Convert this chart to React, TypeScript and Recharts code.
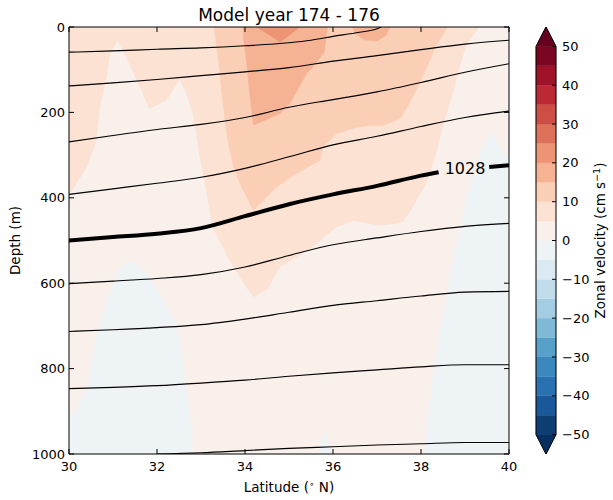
import React from 'react';
import { ComposedChart, Scatter, XAxis, YAxis, ReferenceDot, Curve } from 'recharts';

const FONT = '"DejaVu Sans", sans-serif';

// ---------- axes / colour scale ----------
const LAT_TICKS = [30, 32, 34, 36, 38, 40];
const DEPTH_TICKS = [0, 200, 400, 600, 800, 1000];
const LEVELS = [-50, -45, -40, -35, -30, -25, -20, -15, -10, -5, 0, 5, 10, 15, 20, 25, 30, 35, 40, 45, 50];
const CB_TICKS = [-50, -40, -30, -20, -10, 0, 10, 20, 30, 40, 50];
const BAND_COLORS = [
  '#0c3e74', '#1a5999', '#2a71b2', '#3b88bd', '#57a0ca', '#7eb9d7', '#a2cde3', '#c1ddec', '#dbeaf2', '#eef3f5',
  '#f9f0eb', '#fce2d3', '#fbceb6', '#f6b393', '#ed9475', '#dd715a', '#cd4e44', '#bb2a34', '#9f1228', '#7a0622',
];
const UNDER_COLOR = '#053061';
const OVER_COLOR = '#67001f';

// ---------- filled velocity regions: [latitude, depth] ----------
const REGION_0_5: [number, number][] = [[30, 0], [40, 0], [40, 1000], [30, 1000]];
const REGION_5_10: [number, number][] = [
  [30, 0], [39.3, 0], [39.26, 8], [39.03, 43], [38.88, 90], [38.73, 152], [38.5, 230], [38.35, 293],
  [38.12, 365], [37.85, 415], [37.6, 455], [37.44, 460], [37.06, 464], [36.46, 453], [36.08, 468],
  [35.54, 515], [34.79, 562], [34.52, 613], [34.19, 632], [34.04, 610], [33.65, 546], [33.27, 469],
  [32.97, 300], [32.9, 250], [32.82, 203], [32.67, 156], [32.52, 121], [32.21, 172], [31.83, 191],
  [31.61, 140], [31.3, 70], [31.11, 31], [30.93, 62], [30.85, 117], [30.7, 187], [30.62, 266],
  [30.4, 328], [30.05, 386], [30, 392],
];
const REGION_10_15: [number, number][] = [
  [33.3, 0], [38.6, 0], [38.35, 43], [38.05, 113], [37.75, 176], [37.52, 215], [37.14, 230], [36.83, 230],
  [36.5, 236], [36.08, 250], [35.77, 281], [35.7, 312], [35.17, 343], [34.71, 375], [34.19, 429],
  [33.9, 370], [33.72, 320], [33.6, 260], [33.48, 160], [33.4, 80],
];
const REGION_15_20_A: [number, number][] = [
  [33.95, 0], [35.88, 0], [35.85, 20], [35.8, 60], [35.54, 94], [35.4, 109], [35.02, 179], [34.79, 203],
  [34.19, 230], [34.1, 150], [34.05, 94], [33.97, 30],
];
const REGION_15_20_B: [number, number][] = [[36.45, 0], [37.3, 0], [37.2, 20], [37.0, 33], [36.7, 30], [36.5, 14]];
const REGION_20_25: [number, number][] = [[34.26, 0], [35.24, 0], [35.0, 20], [34.79, 35], [34.55, 18]];
const REGION_NEG_LEFT: [number, number][] = [
  [30, 905], [30.13, 909], [30.43, 843], [30.62, 726], [30.85, 648], [31.15, 562], [31.49, 549],
  [31.76, 578], [32.14, 640], [32.44, 695], [32.55, 757], [32.63, 835], [32.74, 913], [32.82, 1000], [30, 1000],
];
const REGION_NEG_RIGHT: [number, number][] = [
  [39.6, 246], [39.79, 281], [40, 312], [40, 1000], [38.06, 1000], [38.08, 992], [38.16, 913], [38.27, 835],
  [38.42, 718], [38.58, 640], [38.77, 523], [38.88, 484], [39.03, 406], [39.18, 343], [39.37, 289],
];
const REGION_NEG_SMALL: [number, number][] = [[35.66, 1000], [35.81, 948], [35.97, 1000]];

const REGIONS = [
  { level: 0, pts: REGION_0_5 },
  { level: 5, pts: REGION_5_10 },
  { level: 10, pts: REGION_10_15 },
  { level: 15, pts: REGION_15_20_A },
  { level: 15, pts: REGION_15_20_B },
  { level: 20, pts: REGION_20_25 },
  { level: -5, pts: REGION_NEG_LEFT },
  { level: -5, pts: REGION_NEG_RIGHT },
  { level: -5, pts: REGION_NEG_SMALL },
];

// ---------- density contours: [latitude, depth] ----------
const LINE_1: [number, number][] = [[30, 59], [31, 56], [32, 52], [33, 49], [34, 44], [35, 37], [35.5, 31], [36, 22], [36.5, 14], [37, 4], [37.1, 0]];
const LINE_2: [number, number][] = [[30, 138], [31, 131], [32, 123], [33, 114], [34, 105], [35, 95], [36, 80], [37, 67], [38, 53], [39, 40], [40, 31]];
const LINE_3: [number, number][] = [[30, 269], [31, 254], [32, 240], [33, 228], [34, 212], [35, 188], [36, 170], [37, 152], [38, 130], [39, 106], [40, 86]];
const LINE_4: [number, number][] = [[30, 392], [31, 379], [32, 366], [33, 352], [34, 331], [35, 304], [36, 276], [37, 256], [38, 233], [39, 212], [40, 197]];
const LINE_1028_A: [number, number][] = [[30, 500], [31, 492], [32, 484], [33, 471], [34, 443], [35, 415], [36, 392], [37, 372], [38, 348], [38.4, 340]];
const LINE_1028_B: [number, number][] = [[39.55, 328], [40, 324]];
const LINE_6: [number, number][] = [[30, 601], [31, 595], [32, 589], [33, 580], [34, 562], [35, 535], [36, 510], [37, 494], [38, 479], [39, 467], [40, 460]];
const LINE_7: [number, number][] = [[30, 713], [31, 709], [32, 704], [33, 697], [34, 684], [35, 668], [36, 652], [37, 641], [38, 630], [39, 621], [40, 619]];
const LINE_8: [number, number][] = [[30, 847], [31, 844], [32, 840], [33, 834], [34, 827], [35, 818], [36, 810], [37, 803], [38, 796], [39, 791], [40, 791]];
const LINE_9: [number, number][] = [[32, 1000], [33, 997], [34, 992], [35, 987], [36, 983], [37, 979], [38, 976], [39, 973], [40, 973]];

const THIN_LINES = [LINE_1, LINE_2, LINE_3, LINE_4, LINE_6, LINE_7, LINE_8, LINE_9];
const THICK_LINES = [LINE_1028_A, LINE_1028_B];
const LABEL_1028 = { lat: 39.0, depth: 330, text: '1028' };

// ---------- helpers ----------
const toPts = (arr: [number, number][]) => arr.map(([lat, depth]) => ({ lat, depth }));
const colorFor = (level: number) => BAND_COLORS[LEVELS.indexOf(level)];
const noShape = () => <g />;

const polyRenderer = (fill: string, stroke?: string, sw?: number) => (props: any) => {
  const pts = (props.points || []) as { x: number; y: number }[];
  const d = pts.map((p, i) => `${i ? 'L' : 'M'}${p.x},${p.y}`).join('') + 'Z';
  return <path d={d} fill={fill} stroke={stroke || fill} strokeWidth={sw ?? 0.6} strokeLinejoin="miter" />;
};
const curveRenderer = (w: number) => (props: any) => (
  <Curve points={props.points} type="monotoneX" stroke="#000" strokeWidth={w} fill="none" />
);

// colorbar table built from levels
const CB_BANDS = BAND_COLORS.map((c, i) => ({
  color: c,
  pts: [
    { x: 0, v: LEVELS[i] }, { x: 1, v: LEVELS[i] }, { x: 1, v: LEVELS[i + 1] }, { x: 0, v: LEVELS[i + 1] },
  ],
}));
const CB_OVER = [{ x: 0, v: 50 }, { x: 1, v: 50 }, { x: 0.5, v: 55 }];
const CB_UNDER = [{ x: 0, v: -50 }, { x: 1, v: -50 }, { x: 0.5, v: -55 }];
const CB_OUTLINE = [{ x: 0, v: -50 }, { x: 0, v: 50 }, { x: 0.5, v: 55 }, { x: 1, v: 50 }, { x: 1, v: -50 }, { x: 0.5, v: -55 }];
const ANCHOR = [{ lat: 30, depth: 0 }, { lat: 40, depth: 1000 }];

const TICK_LEN = 5;
const CB_TICK_LEN = 4;
const X_MARGIN = 7.5;
const Y_MARGIN = 4;
const CB_MARGIN_PX = 6;
const cbTickFmt = (v: number) => (v < 0 ? `\u2212${Math.abs(v)}` : `${v}`);

// custom ticks: inward tick mark + label, positioned from the axis' own tick coordinates
const BottomTick = (p: any) => (
  <g>
    <line x1={p.x} x2={p.x} y1={p.y - X_MARGIN} y2={p.y - X_MARGIN - TICK_LEN} stroke="#000" strokeWidth={1} />
    <text x={p.x} y={p.y} dy="0.71em" textAnchor="middle" fontSize={13} fontFamily={FONT} fill="#000">
      {p.payload.value}
    </text>
  </g>
);
const TopTick = (p: any) => (
  <line x1={p.x} x2={p.x} y1={p.y} y2={p.y + TICK_LEN} stroke="#000" strokeWidth={1} />
);
const LeftTick = (p: any) => (
  <g>
    <line x1={p.x + Y_MARGIN} x2={p.x + Y_MARGIN + TICK_LEN} y1={p.y} y2={p.y} stroke="#000" strokeWidth={1} />
    <text x={p.x} y={p.y} dy="0.355em" textAnchor="end" fontSize={13} fontFamily={FONT} fill="#000">
      {p.payload.value}
    </text>
  </g>
);
const RightTick = (p: any) => (
  <line x1={p.x} x2={p.x - TICK_LEN} y1={p.y} y2={p.y} stroke="#000" strokeWidth={1} />
);
const CbTick = (p: any) => (
  <g>
    <line x1={p.x - CB_MARGIN_PX} x2={p.x - CB_MARGIN_PX - CB_TICK_LEN} y1={p.y} y2={p.y} stroke="#000" strokeWidth={1} />
    <text x={p.x} y={p.y} dy="0.355em" textAnchor="start" fontSize={13} fontFamily={FONT} fill="#000">
      {cbTickFmt(p.payload.value)}
    </text>
  </g>
);

const TitleLabel = (p: any) => {
  const vb = p.viewBox;
  return (
    <text x={vb.x + vb.width / 2} y={vb.y + vb.height - 6} textAnchor="middle" fontSize={17} fontFamily={FONT} fill="#000">
      Model year 174 - 176
    </text>
  );
};
const XLabel = (p: any) => {
  const vb = p.viewBox;
  return (
    <text x={vb.x + vb.width / 2} y={vb.y + 37.5} textAnchor="middle" fontSize={13.5} fontFamily={FONT} fill="#000">
      Latitude (<tspan dy={-5} fontSize={9}>{'\u2218'}</tspan>
      <tspan dy={5}> N)</tspan>
    </text>
  );
};
const YLabel = (p: any) => {
  const vb = p.viewBox;
  const x = vb.x + 1;
  const y = vb.y + vb.height / 2;
  return (
    <text x={x} y={y} transform={`rotate(-90, ${x}, ${y})`} textAnchor="middle" fontSize={13.5} fontFamily={FONT} fill="#000">
      Depth (m)
    </text>
  );
};
const CbLabel = (p: any) => {
  const vb = p.viewBox;
  const x = vb.x + 49;
  const y = vb.y + vb.height / 2;
  return (
    <text x={x} y={y} transform={`rotate(-90, ${x}, ${y})`} textAnchor="middle" fontSize={13.5} fontFamily={FONT} fill="#000">
      Zonal velocity (cm s<tspan dy={-5} fontSize={9.5}>{'\u22121'}</tspan>
      <tspan dy={5}>)</tspan>
    </text>
  );
};

const MAIN_MARGIN = { top: 27, right: 104, bottom: 16, left: 19 };
const FRAME_MARGIN = { top: 26, right: 103, bottom: 16, left: 19 };
const CB_MARGIN = { top: 27, right: 12, bottom: 46, left: 536 };
const layer: React.CSSProperties = { position: 'absolute', left: 0, top: 0 };

export default function App() {
  return (
    <div style={{ position: 'absolute', left: 0, top: 0, width: 613, height: 500, background: '#fff' }}>
      {/* main plot: fills and contours */}
      <div style={layer}>
        <ComposedChart width={613} height={500} margin={MAIN_MARGIN}>
          {REGIONS.map((r, i) => (
            <Scatter
              key={`r${i}`}
              data={toPts(r.pts)}
              fill={colorFor(r.level)}
              line={polyRenderer(colorFor(r.level))}
              lineType="joint"
              shape={noShape}
              isAnimationActive={false}
            />
          ))}
          {THIN_LINES.map((l, i) => (
            <Scatter key={`l${i}`} data={toPts(l)} fill="#000" line={curveRenderer(1.15)} lineType="joint" shape={noShape} isAnimationActive={false} />
          ))}
          {THICK_LINES.map((l, i) => (
            <Scatter key={`t${i}`} data={toPts(l)} fill="#000" line={curveRenderer(4)} lineType="joint" shape={noShape} isAnimationActive={false} />
          ))}
          <ReferenceDot
            x={LABEL_1028.lat}
            y={LABEL_1028.depth}
            r={1}
            fill="none"
            stroke="none"
            label={{ value: LABEL_1028.text, position: 'center', fontSize: 16, fill: '#000', fontFamily: FONT }}
          />
          <XAxis dataKey="lat" type="number" domain={[30, 40]} ticks={LAT_TICKS} allowDataOverflow height={30} tick={false} tickLine={false} axisLine={false} />
          <YAxis dataKey="depth" type="number" domain={[0, 1000]} reversed ticks={DEPTH_TICKS} allowDataOverflow width={50} tick={false} tickLine={false} axisLine={false} />
        </ComposedChart>
      </div>
      {/* main plot: frame, ticks and labels on top */}
      <div style={layer}>
        <ComposedChart width={613} height={500} margin={FRAME_MARGIN}>
          <Scatter data={ANCHOR} fill="none" shape={noShape} isAnimationActive={false} />
          <Scatter data={ANCHOR} xAxisId="top" yAxisId="right" fill="none" shape={noShape} isAnimationActive={false} />
          <XAxis
            dataKey="lat"
            type="number"
            domain={[30, 40]}
            ticks={LAT_TICKS}
            allowDataOverflow
            stroke="#000"
            tickLine={false}
            tickSize={0}
            tickMargin={X_MARGIN}
            tick={BottomTick}
            height={30}
            label={XLabel}
          />
          <XAxis
            xAxisId="top"
            dataKey="lat"
            orientation="top"
            type="number"
            domain={[30, 40]}
            ticks={LAT_TICKS}
            allowDataOverflow
            stroke="#000"
            tickLine={false}
            tickSize={0}
            tickMargin={0}
            tick={TopTick}
            height={1}
            label={TitleLabel}
          />
          <YAxis
            dataKey="depth"
            type="number"
            domain={[0, 1000]}
            reversed
            ticks={DEPTH_TICKS}
            allowDataOverflow
            stroke="#000"
            tickLine={false}
            tickSize={0}
            tickMargin={Y_MARGIN}
            tick={LeftTick}
            width={50}
            label={YLabel}
          />
          <YAxis
            yAxisId="right"
            dataKey="depth"
            orientation="right"
            type="number"
            domain={[0, 1000]}
            reversed
            ticks={DEPTH_TICKS}
            allowDataOverflow
            stroke="#000"
            tickLine={false}
            tickSize={0}
            tickMargin={0}
            tick={RightTick}
            width={1}
          />
        </ComposedChart>
      </div>
      {/* colorbar fills */}
      <div style={layer}>
        <ComposedChart width={613} height={500} margin={CB_MARGIN}>
          {CB_BANDS.map((b, i) => (
            <Scatter key={`cb${i}`} data={b.pts} fill={b.color} line={polyRenderer(b.color, b.color, 0.3)} lineType="joint" shape={noShape} isAnimationActive={false} />
          ))}
          <Scatter data={CB_OVER} fill={OVER_COLOR} line={polyRenderer(OVER_COLOR)} lineType="joint" shape={noShape} isAnimationActive={false} />
          <Scatter data={CB_UNDER} fill={UNDER_COLOR} line={polyRenderer(UNDER_COLOR)} lineType="joint" shape={noShape} isAnimationActive={false} />
          <XAxis dataKey="x" type="number" domain={[0, 1]} hide />
          <YAxis dataKey="v" type="number" orientation="right" domain={[-55, 55]} allowDataOverflow width={45} tick={false} tickLine={false} axisLine={false} />
        </ComposedChart>
      </div>
      {/* colorbar outline, ticks and label on top */}
      <div style={layer}>
        <ComposedChart width={613} height={500} margin={CB_MARGIN}>
          <Scatter data={CB_OUTLINE} fill="none" line={polyRenderer('none', '#000', 1)} lineType="joint" shape={noShape} isAnimationActive={false} />
          <XAxis dataKey="x" type="number" domain={[0, 1]} hide />
          <YAxis
            dataKey="v"
            type="number"
            orientation="right"
            domain={[-55, 55]}
            ticks={CB_TICKS}
            allowDataOverflow
            axisLine={false}
            stroke="#000"
            tickLine={false}
            tickSize={0}
            tickMargin={CB_MARGIN_PX}
            tick={CbTick}
            width={45}
            label={CbLabel}
          />
        </ComposedChart>
      </div>
    </div>
  );
}
